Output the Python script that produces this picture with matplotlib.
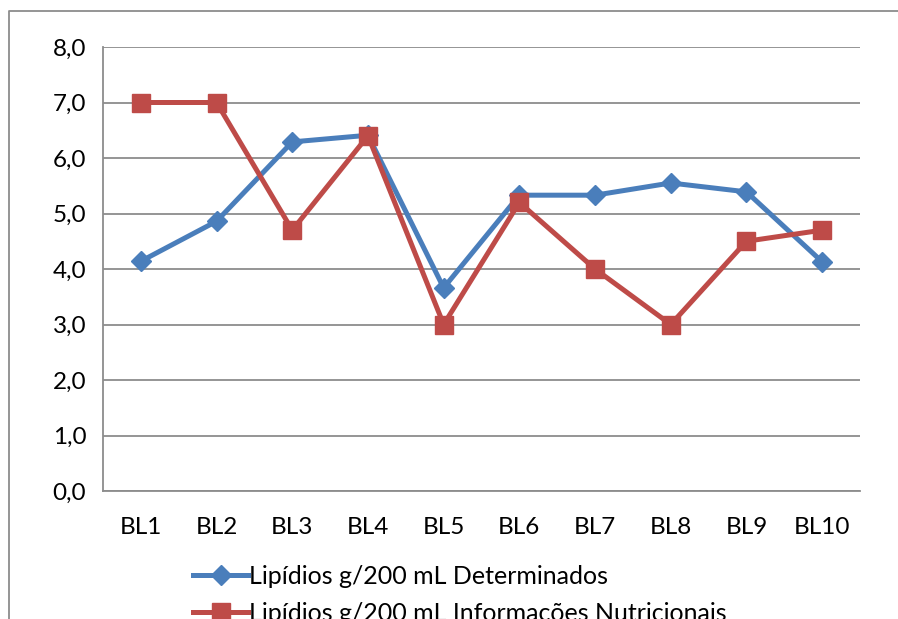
import matplotlib.pyplot as plt
from matplotlib.lines import Line2D

plt.rcParams['font.family'] = ['Lato', 'DejaVu Sans']

amostras = ['BL1', 'BL2', 'BL3', 'BL4', 'BL5', 'BL6', 'BL7', 'BL8', 'BL9', 'BL10']
determinados = [4.14, 4.86, 6.29, 6.41, 3.66, 5.33, 5.33, 5.55, 5.39, 4.13]
rotulo = [7.0, 7.0, 4.7, 6.4, 3.0, 5.2, 4.0, 3.0, 4.5, 4.7]

azul = '#4a7ebb'
vermelho = '#be4b48'
cinza = '#8c8c8c'

fig = plt.figure(figsize=(8.98, 6.19), dpi=100)
ax = fig.add_axes([103 / 898, 1 - 491 / 619, 757 / 898, 444 / 619])

# chart frame: only the left and top edges fall inside the image
x0, y0 = 8.5 / 898, 1 - 10.5 / 619
fig.add_artist(Line2D([x0, x0, 1.0], [0.0, y0, y0], transform=fig.transFigure,
                      color=cinza, lw=1.3))

x = range(len(amostras))
ax.plot(x, determinados, color=azul, lw=3.6, marker='D', ms=10,
        label='Lipídios g/200 mL Determinados', zorder=3)
ax.plot(x, rotulo, color=vermelho, lw=3.6, marker='s', ms=13,
        label='Lipídios g/200 mL Informações Nutricionais', zorder=4)

ax.set_xlim(-0.5, len(amostras) - 0.5)
ax.set_ylim(0, 8)
ax.set_yticks([i for i in range(9)])
ax.set_yticklabels(['%d,0' % i for i in range(9)])
ax.set_xticks(list(x))
ax.set_xticklabels(amostras)
ax.tick_params(length=0, labelsize=17.5, colors='black')
ax.tick_params(axis='y', pad=12)
ax.tick_params(axis='x', pad=19)

ax.grid(axis='y', color=cinza, lw=1.3)
ax.set_axisbelow(True)
for s in ['top', 'right']:
    ax.spines[s].set_visible(False)
for s in ['left', 'bottom']:
    ax.spines[s].set_color(cinza)
    ax.spines[s].set_linewidth(1.3)

fig.legend(loc='upper left', bbox_to_anchor=(193 / 898, 1 - 565 / 619),
           frameon=False, fontsize=18, handlelength=2.2, handletextpad=0.05,
           labelspacing=0.55, borderaxespad=0, borderpad=0)

fig.savefig('out.png', dpi=100)
